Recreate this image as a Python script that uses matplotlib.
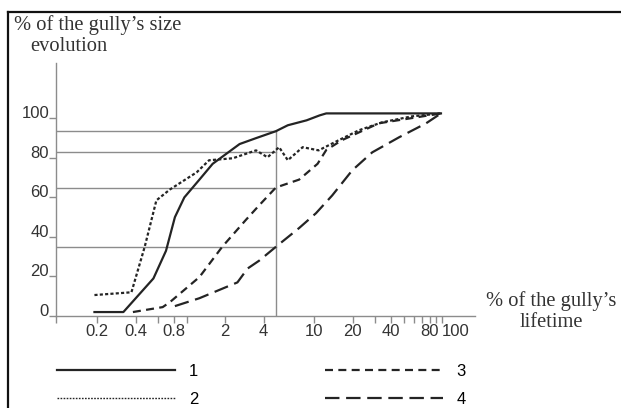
import numpy as np
import matplotlib
matplotlib.use("Agg")
from matplotlib import pyplot as plt
from matplotlib.lines import Line2D
from matplotlib.ticker import NullLocator
from matplotlib.transforms import ScaledTranslation

# curve 1 - solid
x1 = [0.19, 0.32, 0.55, 0.69, 0.81, 0.96, 1.26, 1.6, 2.6, 3.5, 5.0, 6.2, 8.7, 11, 12.4, 98]
y1 = [2, 2, 19, 33, 50, 60, 69, 77, 87, 90, 93.5, 96.5, 99, 101.5, 102.5, 102.5]

# curve 2 - dotted
x2 = [0.19, 0.37, 0.47, 0.58, 0.74, 0.95, 1.2, 1.5, 2.3, 3.5, 4.3, 5.3, 6.2, 8.1, 10.8, 15.6, 22.4, 34, 58, 98]
y2 = [10.6, 12, 35, 58.5, 64, 68.5, 72.7, 78.8, 79.8, 83.8, 80.3, 85.4, 78.8, 85.4, 83.8, 89, 94, 98, 101, 102.5]

# curve 3 - dashed
x3 = [0.38, 0.65, 0.74, 1.26, 1.9, 2.9, 3.7, 5.0, 7.6, 10.6, 12.4, 16.5, 32, 63, 98]
y3 = [2, 4.5, 7, 19.7, 35, 48.5, 56, 65, 69, 77, 84, 89, 97.5, 100.5, 102.5]

# curve 4 - long dashed
x4 = [0.81, 1.26, 2.5, 3.0, 3.7, 5.0, 7.6, 10.3, 13.8, 19.8, 28.4, 46, 75, 98]
y4 = [5, 9, 17, 24, 28, 35, 44.5, 52, 61, 73.7, 82.8, 90.4, 97.5, 102.5]

# reference lines read at 5 % of lifetime
ref_x = 5
ref_levels = [93.5, 83, 65, 35]

xticks = [0.095, 0.2, 0.4, 0.6, 0.8, 1, 2, 4, 10, 20, 30, 40, 50, 60, 70, 80, 90, 100]
xtick_labels = ["", "0.2", "0.4", "", "0.8", "", "2", "4", "10", "20", "", "40", "", "", "", "80", "", "100"]
yticks = [0, 20, 40, 60, 80, 100]

W, H = 621, 408
fig = plt.figure(figsize=(W / 100, H / 100), dpi=100)

ax = fig.add_axes([56 / W, (H - 316) / H, (475 - 56) / W, (316 - 63) / H])
ax.set_xscale("log")
ax.set_xlim(0.095, 181)
ax.set_ylim(0, 128)

grey = "#8c8c8c"
ink = "#242424"

#guide lines to the vertical at 5 %
for lvl in ref_levels:
    ax.plot([0.095, ref_x], [lvl, lvl], color=grey, lw=1.0, zorder=1)
ax.plot([ref_x, ref_x], [0, max(ref_levels)], color=grey, lw=1.0, zorder=1)

l1, = ax.plot(x1, y1, color=ink, lw=1.6, ls="-", label="1")
l2, = ax.plot(x2, y2, color=ink, lw=1.6, ls=(0, (1.4, 1.0)), label="2")
l3, = ax.plot(x3, y3, color=ink, lw=1.6, ls=(0, (3.6, 2.4)), label="3")
l4, = ax.plot(x4, y4, color=ink, lw=1.6, ls=(0, (6.5, 3.0)), label="4")

for s in ["top", "right"]:
    ax.spines[s].set_visible(False)
for s in ["left", "bottom"]:
    ax.spines[s].set_color(grey)
    ax.spines[s].set_linewidth(1.0)

ax.xaxis.set_minor_locator(NullLocator())
ax.set_xticks(xticks)
ax.set_xticklabels(xtick_labels)
ax.tick_params(axis="x", direction="out", length=5, width=1, color=grey,
               labelsize=12, labelcolor="#333333", pad=1)
for t in ax.get_xticklabels():
    t.set_fontfamily("Liberation Sans")
# the last label sits a bit to the right of its tick, as in the source
last = ax.get_xticklabels()[-1]
last.set_transform(last.get_transform() + ScaledTranslation(14 / 100, 0, fig.dpi_scale_trans))

ax.set_yticks(yticks)
ax.set_yticklabels([str(v) for v in yticks])
ax.tick_params(axis="y", direction="out", length=5, width=1, color=grey,
               labelsize=12, labelcolor="#333333", pad=0)
for t in ax.get_yticklabels():
    t.set_fontfamily("Liberation Sans")
    t.set_verticalalignment("baseline")

# axis titles in serif, placed like the original
fig.text(14 / W, 1 - 15 / H, "% of the gully\u2019s size", family="Liberation Serif",
         fontsize=14.8, color="#333333", ha="left", va="top")
fig.text(30 / W, 1 - 37 / H, "evolution", family="Liberation Serif",
         fontsize=14.8, color="#333333", ha="left", va="top")
fig.text(551 / W, 1 - 291 / H, "% of the gully\u2019s", family="Liberation Serif",
         fontsize=14.8, color="#333333", ha="center", va="top")
fig.text(551 / W, 1 - 313 / H, "lifetime", family="Liberation Serif",
         fontsize=14.8, color="#333333", ha="center", va="top")

# legend key for 2 is a finer dotted line than the curve
h2 = Line2D([], [], color=ink, lw=1.0, ls=(0, (1.2, 1.0)), label="2")

leg = fig.legend(handles=[l1, h2, l3, l4], ncol=2, loc="upper left",
                 bbox_to_anchor=(57 / W, 1 - 364 / H), frameon=False,
                 borderpad=0, borderaxespad=0, handlelength=7.1,
                 handletextpad=0.8, columnspacing=7.6, labelspacing=0.75,
                 prop={"family": "Liberation Sans", "size": 12})

# outer frame, cut off at right and bottom like the source
fig.add_artist(Line2D([8 / W, 8 / W], [0, 1 - 12 / H], color="#111111", lw=1.6))
fig.add_artist(Line2D([8 / W, 1], [1 - 12 / H, 1 - 12 / H], color="#111111", lw=1.6))

fig.savefig("out.png", dpi=100)
